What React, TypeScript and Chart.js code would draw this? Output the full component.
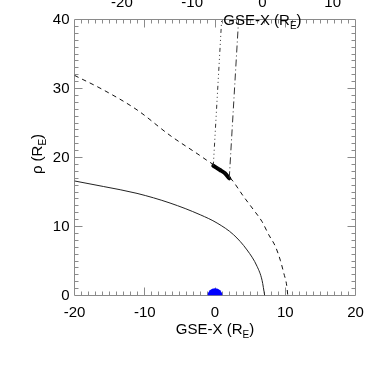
import React, { useEffect, useRef } from "react";
import { Chart, registerables } from "chart.js";

Chart.register(...registerables);

// ---- data ----
const magnetopauseX = [-20, -15.9, -11.1, -6.4, -2.1, 0.3, 2.65, 4.56, 6.0, 6.7, 7.07];
const magnetopauseRho = [16.6, 15.8, 14.8, 13.4, 11.7, 10.5, 8.8, 6.6, 4.2, 2.2, 0];

const bowShockX = [-20, -15.9, -11.1, -6.4, -1.6, 2.2, 4.1, 5.5, 6.7, 7.65, 8.6, 9.3, 9.8, 10.2, 10.36];
const bowShockRho = [31.9, 29.8, 26.9, 23.2, 19.9, 17.0, 14.3, 12.4, 10.7, 8.8, 7.1, 5.1, 3.2, 1.5, 0];

const crossingX = [-0.24, 0.71, 1.42, 2.03];
const crossingRho = [18.81, 18.19, 17.71, 16.99];

const leftTraceX = [-0.24, 0.95];
const leftTraceRho = [18.81, 40];
const rightTraceX = [2.03, 3.36];
const rightTraceRho = [16.99, 40];

const earthX = [0];
const earthRho = [0];

const xTicks = [-20, -10, 0, 10, 20];
const yTicks = [0, 10, 20, 30, 40];
const topTicks = [-20, -10, 0, 10];
const topAxisShift = 6.75;

const FONT = "'Liberation Sans', Arial, Helvetica, sans-serif";
const EARTH_INDEX = 5;

const pts = (xs: number[], ys: number[]) => xs.map((x, i) => ({ x, y: ys[i] }));

function drawSubLabel(
  ctx: CanvasRenderingContext2D,
  main: string,
  sub: string,
  tail: string,
  x: number,
  y: number,
  rot: number
) {
  ctx.save();
  ctx.translate(x, y);
  ctx.rotate(rot);
  ctx.fillStyle = "#000";
  ctx.textBaseline = "alphabetic";
  ctx.textAlign = "left";
  ctx.font = `15px ${FONT}`;
  const w1 = ctx.measureText(main).width;
  const w3 = ctx.measureText(tail).width;
  ctx.font = `10px ${FONT}`;
  const w2 = ctx.measureText(sub).width;
  let cx = -(w1 + w2 + w3) / 2;
  ctx.font = `15px ${FONT}`;
  ctx.fillText(main, cx, 0);
  cx += w1;
  ctx.font = `10px ${FONT}`;
  ctx.fillText(sub, cx, 4);
  cx += w2;
  ctx.font = `15px ${FONT}`;
  ctx.fillText(tail, cx, 0);
  ctx.restore();
}

const frame = {
  id: "frame",
  beforeDatasetsDraw(chart: any) {
    const { ctx, chartArea: a, scales } = chart;
    const xs = scales.x;
    const ys = scales.y;
    const al = (v: number) => Math.round(v - 0.5) + 0.5;
    ctx.save();
    ctx.strokeStyle = "#8a8a8a";
    ctx.lineWidth = 1;
    const L = al(a.left), R = al(a.right), T = al(a.top), B = al(a.bottom);
    ctx.beginPath();
    ctx.rect(L, T, R - L, B - T);
    ctx.stroke();
    ctx.beginPath();
    for (let v = xs.min + 1; v < xs.max; v++) {
      const p = al(xs.getPixelForValue(v));
      const len = v % 10 === 0 ? 8 : 4;
      ctx.moveTo(p, B);
      ctx.lineTo(p, B - len);
      ctx.moveTo(p, T);
      ctx.lineTo(p, T + len);
    }
    for (let v = ys.min + 1; v < ys.max; v++) {
      const p = al(ys.getPixelForValue(v));
      const len = v % 10 === 0 ? 8 : 4;
      ctx.moveTo(L, p);
      ctx.lineTo(L + len, p);
      ctx.moveTo(R, p);
      ctx.lineTo(R - len, p);
    }
    ctx.stroke();
    ctx.restore();
  },
  beforeDatasetDraw(chart: any, args: any) {
    if (args.index !== EARTH_INDEX) return;
    const { ctx, chartArea: a } = chart;
    ctx.save();
    ctx.beginPath();
    ctx.rect(a.left, a.top, a.right - a.left, a.bottom - a.top);
    ctx.clip();
  },
  afterDatasetDraw(chart: any, args: any) {
    if (args.index !== EARTH_INDEX) return;
    chart.ctx.restore();
  },
  afterDraw(chart: any) {
    const { ctx, chartArea: a, scales } = chart;
    const xs = scales.x;
    ctx.save();
    ctx.fillStyle = "#000";
    ctx.font = `15px ${FONT}`;
    ctx.textAlign = "center";
    ctx.textBaseline = "alphabetic";
    topTicks.forEach((v) => {
      ctx.fillText(String(v), xs.getPixelForValue(v + topAxisShift), a.top - 12.8);
    });
    ctx.restore();
    drawSubLabel(ctx, "GSE-X (R", "E", ")", xs.getPixelForValue(topAxisShift), a.top + 5.5, 0);
    drawSubLabel(ctx, "GSE-X (R", "E", ")", (a.left + a.right) / 2, a.bottom + 38, 0);
    drawSubLabel(ctx, "\u03c1 (R", "E", ")", a.left - 33, (a.top + a.bottom) / 2 - 3.5, -Math.PI / 2);
  },
};

export default function App() {
  const ref = useRef<HTMLCanvasElement>(null);
  useEffect(() => {
    const chart = new Chart(ref.current as HTMLCanvasElement, {
      type: "scatter",
      data: {
        datasets: [
          {
            data: pts(bowShockX, bowShockRho),
            showLine: true,
            borderColor: "#111",
            borderWidth: 1,
            borderDash: [4.5, 4],
            pointRadius: 0,
            cubicInterpolationMode: "monotone",
          } as any,
          {
            data: pts(magnetopauseX, magnetopauseRho),
            showLine: true,
            borderColor: "#222",
            borderWidth: 1,
            pointRadius: 0,
            cubicInterpolationMode: "monotone",
          } as any,
          {
            data: pts(leftTraceX, leftTraceRho),
            showLine: true,
            borderColor: "#333",
            borderWidth: 1,
            borderDash: [4, 3, 1, 3, 1, 3, 1, 3],
            pointRadius: 0,
          },
          {
            data: pts(rightTraceX, rightTraceRho),
            showLine: true,
            borderColor: "#333",
            borderWidth: 1,
            borderDash: [7, 3, 1, 3],
            pointRadius: 0,
          },
          {
            data: pts(crossingX, crossingRho),
            showLine: true,
            borderColor: "#000",
            borderWidth: 4,
            borderCapStyle: "round",
            pointRadius: 0,
            tension: 0.3,
          } as any,
          {
            data: pts(earthX, earthRho),
            showLine: false,
            pointRadius: 7.3,
            pointBackgroundColor: "#0000ff",
            pointBorderWidth: 0,
            clip: 0,
          } as any,
        ],
      },
      options: {
        animation: false,
        responsive: false,
        events: [],
        layout: { padding: { left: 0, top: 19.5, right: 18.5, bottom: 0 } },
        plugins: { legend: { display: false }, tooltip: { enabled: false } },
        scales: {
          x: {
            type: "linear",
            position: "bottom",
            min: -20,
            max: 20,
            afterFit: (s: any) => {
              s.height = 78.5;
            },
            afterBuildTicks: (s: any) => {
              s.ticks = xTicks.map((v) => ({ value: v }));
            },
            grid: { display: false, drawTicks: false },
            border: { display: false },
            ticks: {
              color: "#000",
              font: { family: FONT, size: 15 },
              padding: 8,
              maxRotation: 0,
              autoSkip: false,
            },
          },
          y: {
            type: "linear",
            position: "left",
            min: 0,
            max: 40,
            afterFit: (s: any) => {
              s.width = 74.5;
            },
            afterBuildTicks: (s: any) => {
              s.ticks = yTicks.map((v) => ({ value: v }));
            },
            grid: { display: false, drawTicks: false },
            border: { display: false },
            ticks: {
              color: "#000",
              font: { family: FONT, size: 15 },
              padding: 5,
              autoSkip: false,
            },
          },
        },
      } as any,
      plugins: [frame],
    });
    return () => chart.destroy();
  }, []);
  return (
    <div style={{ position: "absolute", left: 0, top: 0, width: 374, height: 374, background: "#fff" }}>
      <canvas ref={ref} width={374} height={374} style={{ display: "block" }} />
    </div>
  );
}
